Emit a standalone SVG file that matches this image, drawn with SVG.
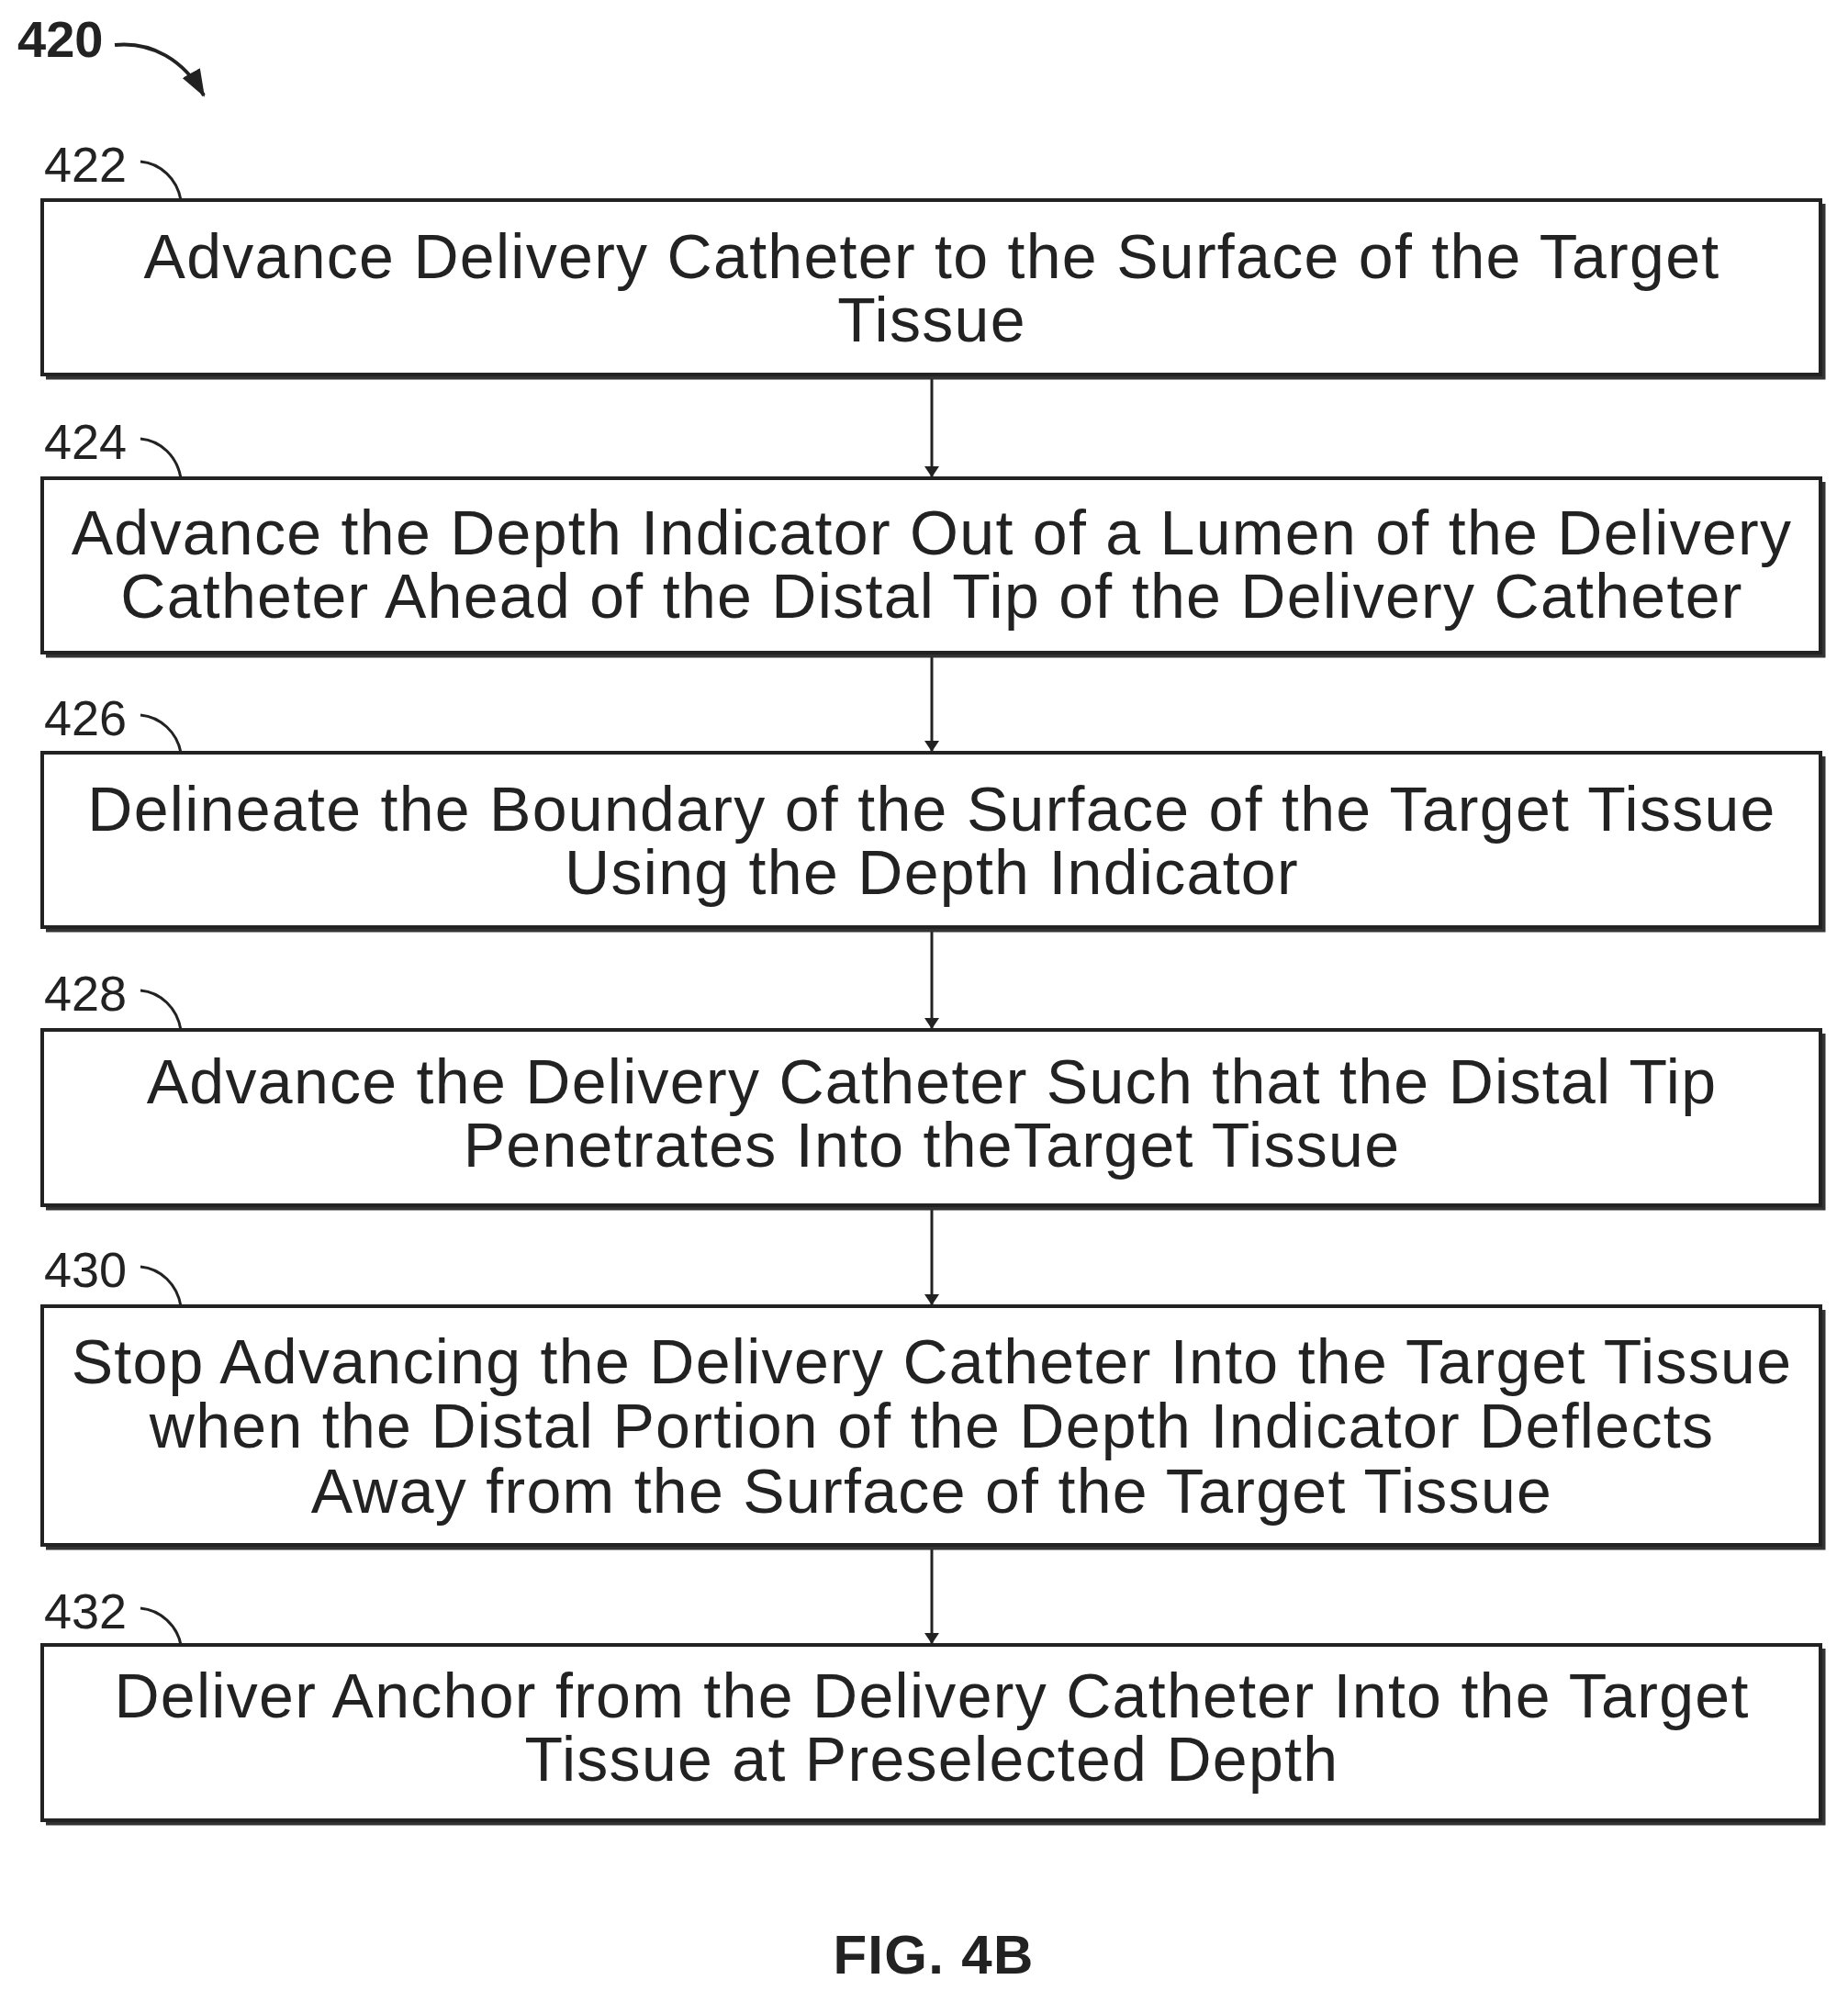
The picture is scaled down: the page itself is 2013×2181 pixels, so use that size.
<svg xmlns="http://www.w3.org/2000/svg" width="2013" height="2181" viewBox="0 0 2013 2181">
<style>
.box{fill:#fff;stroke:#222;stroke-width:4}
.sh{fill:none;stroke:#333;stroke-width:7}
.t{font-family:"Liberation Sans",Arial,sans-serif;font-size:68px;fill:#222;text-anchor:middle;letter-spacing:1.3px}
.lb{font-family:"Liberation Sans",Arial,sans-serif;font-size:54px;fill:#222}
.c{fill:none;stroke:#222;stroke-width:3}
.a{stroke:#222;stroke-width:3;marker-end:url(#ah)}
</style>
<defs><marker id="ah" markerWidth="12" markerHeight="16" refX="11" refY="8" orient="auto" markerUnits="userSpaceOnUse"><path d="M0,0 L12,8 L0,16 Z" fill="#222"/></marker>
<marker id="ah2" markerWidth="30" markerHeight="30" refX="28" refY="15" orient="auto" markerUnits="userSpaceOnUse"><path d="M0,4 L30,15 L0,26 Z" fill="#222"/></marker></defs>
<rect width="2013" height="2181" fill="#fff"/>
<g id="title"><text x="19" y="62" class="lb" style="font-weight:bold;font-size:56px">420</text>
<path d="M125,49 C165,45 200,65 222,104" class="c" style="stroke-width:4" marker-end="url(#ah2)"/></g>
<g id="connectors">
<line x1="1015" y1="413" x2="1015" y2="519" class="a"/>
<line x1="1015" y1="716" x2="1015" y2="818" class="a"/>
<line x1="1015" y1="1015" x2="1015" y2="1120" class="a"/>
<line x1="1015" y1="1318" x2="1015" y2="1421" class="a"/>
<line x1="1015" y1="1688" x2="1015" y2="1790" class="a"/>
</g>
<g id="n422"><path d="M1985,222 V410 H50" class="sh"/><rect x="46" y="218" width="1937" height="190" class="box"/>
<text x="48" y="198" class="lb">422</text><path d="M153,176 C175,178 193,195 197,218" class="c"/>
<text x="1015" y="303" class="t">Advance Delivery Catheter to the Surface of the Target</text><text x="1015" y="372" class="t">Tissue</text></g>
<g id="n424"><path d="M1985,525 V713 H50" class="sh"/><rect x="46" y="521" width="1937" height="190" class="box"/>
<text x="48" y="500" class="lb">424</text><path d="M153,478 C175,480 193,497 197,521" class="c"/>
<text x="1015" y="604" class="t">Advance the Depth Indicator Out of a Lumen of the Delivery</text><text x="1015" y="673" class="t">Catheter Ahead of the Distal Tip of the Delivery Catheter</text></g>
<g id="n426"><path d="M1985,824 V1012 H50" class="sh"/><rect x="46" y="820" width="1937" height="190" class="box"/>
<text x="48" y="801" class="lb">426</text><path d="M153,779 C175,781 193,798 197,820" class="c"/>
<text x="1015" y="905" class="t">Delineate the Boundary of the Surface of the Target Tissue</text><text x="1015" y="974" class="t">Using the Depth Indicator</text></g>
<g id="n428"><path d="M1985,1126 V1315 H50" class="sh"/><rect x="46" y="1122" width="1937" height="191" class="box"/>
<text x="48" y="1101" class="lb">428</text><path d="M153,1079 C175,1081 193,1098 197,1122" class="c"/>
<text x="1015" y="1202" class="t">Advance the Delivery Catheter Such that the Distal Tip</text><text x="1015" y="1271" class="t">Penetrates Into theTarget Tissue</text></g>
<g id="n430"><path d="M1985,1427 V1685 H50" class="sh"/><rect x="46" y="1423" width="1937" height="260" class="box"/>
<text x="48" y="1402" class="lb">430</text><path d="M153,1380 C175,1382 193,1399 197,1423" class="c"/>
<text x="1015" y="1507" class="t">Stop Advancing the Delivery Catheter Into the Target Tissue</text><text x="1015" y="1577" class="t">when the Distal Portion of the Depth Indicator Deflects</text><text x="1015" y="1648" class="t">Away from the Surface of the Target Tissue</text></g>
<g id="n432"><path d="M1985,1796 V1985 H50" class="sh"/><rect x="46" y="1792" width="1937" height="191" class="box"/>
<text x="48" y="1774" class="lb">432</text><path d="M153,1752 C175,1754 193,1771 197,1792" class="c"/>
<text x="1015" y="1871" class="t">Deliver Anchor from the Delivery Catheter Into the Target</text><text x="1015" y="1940" class="t">Tissue at Preselected Depth</text></g>
<text x="1017" y="2150" class="t" style="font-weight:bold;font-size:60px">FIG. 4B</text>
</svg>
